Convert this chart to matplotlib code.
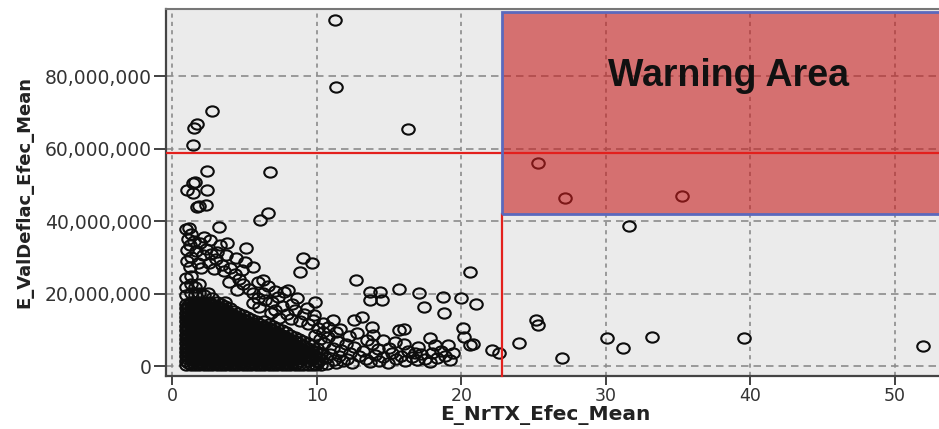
import numpy as np
import matplotlib
matplotlib.use("Agg")
import matplotlib.pyplot as plt
from matplotlib.path import Path
from matplotlib.patches import Rectangle
from matplotlib.ticker import FuncFormatter

# ---------------- data (x = E_NrTX_Efec_Mean, y = E_ValDeflac_Efec_Mean in millions) -------------
out_x = [11.27, 11.34, 16.3, 2.71, 1.68, 1.52, 1.4, 2.41, 6.75, 1.44, 1.55, 1.0, 1.4, 2.41,
         1.67, 1.85, 2.33, 6.06, 6.63, 3.22, 25.3, 27.2, 35.3, 31.6, 20.6, 20.0, 21.0, 18.7,
         18.8, 17.1, 17.4, 15.7, 13.7, 14.4, 13.7, 14.5, 12.7, 9.06, 9.64, 8.83, 25.2, 25.3,
         20.1, 20.2, 20.6, 20.8, 22.1, 22.6, 24.0, 27.0, 30.1, 31.2, 33.2, 39.6, 52.0, 16.0,
         15.7, 19.1, 17.8, 13.8, 12.6, 13.1, 11.1, 10.4, 9.9, 9.8, 8.0, 7.3, 7.7, 8.3, 5.0,
         5.1, 5.6, 5.9, 6.3, 3.3, 3.8]
out_y = [95.5, 76.9, 65.3, 70.5, 66.8, 65.8, 60.9, 53.9, 53.5, 50.5, 50.8, 48.6, 47.7, 48.6,
         44.0, 44.3, 44.5, 40.4, 42.2, 38.5, 56.2, 46.3, 47.1, 38.7, 26.1, 18.8, 17.2, 19.2,
         14.7, 20.3, 16.5, 21.3, 20.6, 20.6, 18.3, 18.2, 23.8, 29.8, 28.4, 26.1, 12.8, 11.4,
         10.5, 8.0, 5.9, 6.1, 4.5, 3.6, 6.4, 2.3, 7.8, 5.2, 8.0, 7.8, 5.6, 10.3,
         10.1, 5.9, 7.8, 11.0, 12.8, 13.7, 12.8, 11.9, 17.9, 14.2, 21.1, 19.2, 20.6, 17.2, 28.9,
         32.6, 27.5, 23.4, 23.8, 33.5, 34.0]

ring_x = [0.95, 1.15, 1.3, 1.05, 1.5, 1.2, 1.9, 1.0, 1.6, 2.3, 2.1, 1.3, 2.7, 1.0, 1.8, 2.5,
          3.0, 3.4, 1.2, 2.0, 2.9, 3.6, 4.0, 4.3, 4.6, 3.9, 4.9, 5.3, 4.5, 5.6, 2.2, 2.6, 3.1,
          4.4, 3.7, 4.8,
          5.9, 6.3, 6.9, 6.6, 7.1, 7.6, 7.9, 8.5, 8.2, 8.8, 9.1, 9.4, 9.7, 10.1, 6.0, 5.6, 6.8,
          7.4, 8.6, 9.3, 10.4, 10.8, 11.3, 7.1, 6.4,
          9.9, 10.2, 10.5, 10.8, 11.1, 11.4, 11.7, 12.0, 12.3, 12.6, 12.9, 13.2, 10.0, 10.3,
          10.6, 10.9, 11.2, 11.5, 11.8, 12.1, 10.1, 10.7, 11.3, 12.4, 12.8, 12.2, 11.6, 13.5,
          13.8, 13.4, 9.7, 9.9,
          13.7, 14.0, 14.3, 14.6, 14.9, 15.2, 15.5, 15.8, 16.1, 16.3, 16.6, 16.9, 17.2, 17.5,
          17.8, 18.0, 18.3, 18.6, 18.9, 19.2, 19.4, 15.0, 16.0, 17.0, 18.2, 14.2, 13.9, 14.6,
          15.4, 16.8]
ring_y = [37.8, 38.2, 36.6, 35.2, 34.6, 33.4, 33.9, 32.0, 31.8, 32.4, 30.6, 30.2, 31.0, 29.0,
          28.6, 28.4, 29.6, 28.0, 27.4, 27.0, 26.8, 26.2, 27.2, 25.4, 24.0, 23.2, 22.6, 21.4,
          21.0, 20.2, 35.8, 34.8, 31.5, 30.0, 30.8, 26.5,
          18.8, 20.2, 17.8, 22.3, 15.6, 16.8, 14.6, 15.5, 13.0, 12.4, 14.6, 11.6, 12.8, 10.6,
          16.4, 17.6, 14.8, 13.4, 18.8, 16.2, 9.4, 10.8, 9.6, 20.8, 18.2,
          8.8, 7.6, 6.4, 8.2, 5.2, 7.0, 4.6, 6.2, 3.6, 5.4, 2.8, 4.4, 5.0, 3.8,
          2.4, 3.4, 1.8, 2.8, 1.4, 2.2, 1.2, 0.8, 0.9, 1.0, 9.2, 8.4, 10.2, 7.4,
          6.2, 2.0, 2.2, 0.6,
          1.2, 3.2, 1.6, 2.6, 1.0, 3.8, 2.2, 3.0, 1.4, 4.4, 2.6, 1.8, 3.4, 2.2,
          1.2, 3.6, 2.4, 4.2, 3.0, 1.8, 3.6, 5.0, 6.2, 5.4, 5.8, 4.8, 8.8, 7.4,
          6.8, 3.6]

# dense core: column positions and the values read in each column
blob_col_x = [0.95, 1.25, 1.55, 1.85, 2.15, 2.45, 2.75, 3.05, 3.35, 3.65, 3.95, 4.25, 4.55,
              4.85, 5.15, 5.45, 5.75, 6.05, 6.35, 6.65, 6.95, 7.25, 7.55, 7.85, 8.15, 8.45,
              8.75, 9.05, 9.35, 9.65, 9.95, 10.25]
blob_col_y = [
    [0.4, 1.6, 2.8, 4.0, 5.2, 6.4, 7.6, 8.8, 10.0, 11.2, 12.4, 13.6, 14.8, 16.0, 17.2, 19.6, 22.0, 24.4],
    [0.4, 2.2, 3.4, 4.6, 5.8, 7.0, 8.2, 9.4, 10.6, 11.8, 13.0, 14.2, 15.4, 16.6, 17.8, 20.2, 22.6, 25.0],
    [0.4, 1.6, 2.8, 4.0, 5.2, 6.4, 7.6, 8.8, 10.0, 11.2, 12.4, 13.6, 14.8, 16.0, 17.2, 19.6, 22.0],
    [0.4, 2.2, 3.4, 4.6, 5.8, 7.0, 8.2, 9.4, 10.6, 11.8, 13.0, 14.2, 15.4, 16.6, 17.8, 20.2, 22.6],
    [0.4, 1.6, 2.8, 4.0, 5.2, 6.4, 7.6, 8.8, 10.0, 11.2, 12.4, 13.6, 14.8, 16.0, 17.2, 19.6],
    [0.4, 2.2, 3.4, 4.6, 5.8, 7.0, 8.2, 9.4, 10.6, 11.8, 13.0, 14.2, 15.4, 16.6, 17.8, 20.2],
    [0.4, 1.6, 2.8, 4.0, 5.2, 6.4, 7.6, 8.8, 10.0, 11.2, 12.4, 13.6, 14.8, 16.0, 17.2, 19.0],
    [0.4, 2.2, 3.4, 4.6, 5.8, 7.0, 8.2, 9.4, 10.6, 11.8, 13.0, 14.2, 15.4, 16.6, 17.8],
    [0.4, 1.6, 2.8, 4.0, 5.2, 6.4, 7.6, 8.8, 10.0, 11.2, 12.4, 13.6, 14.8, 16.0, 17.2],
    [0.4, 2.2, 3.4, 4.6, 5.8, 7.0, 8.2, 9.4, 10.6, 11.8, 13.0, 14.2, 15.4, 16.6, 17.8],
    [0.4, 1.6, 2.8, 4.0, 5.2, 6.4, 7.6, 8.8, 10.0, 11.2, 12.4, 13.6, 14.8, 16.0],
    [0.4, 2.2, 3.4, 4.6, 5.8, 7.0, 8.2, 9.4, 10.6, 11.8, 13.0, 14.2, 15.4],
    [0.4, 1.6, 2.8, 4.0, 5.2, 6.4, 7.6, 8.8, 10.0, 11.2, 12.4, 13.6, 14.8],
    [0.4, 2.2, 3.4, 4.6, 5.8, 7.0, 8.2, 9.4, 10.6, 11.8, 13.0, 14.2],
    [0.4, 1.6, 2.8, 4.0, 5.2, 6.4, 7.6, 8.8, 10.0, 11.2, 12.4, 13.6],
    [0.4, 2.2, 3.4, 4.6, 5.8, 7.0, 8.2, 9.4, 10.6, 11.8, 13.0],
    [0.4, 1.6, 2.8, 4.0, 5.2, 6.4, 7.6, 8.8, 10.0, 11.2, 12.4],
    [0.4, 2.2, 3.4, 4.6, 5.8, 7.0, 8.2, 9.4, 10.6, 11.8],
    [0.4, 1.6, 2.8, 4.0, 5.2, 6.4, 7.6, 8.8, 10.0, 11.2, 12.4],
    [0.4, 2.2, 3.4, 4.6, 5.8, 7.0, 8.2, 9.4, 10.6, 11.8],
    [0.4, 1.6, 2.8, 4.0, 5.2, 6.4, 7.6, 8.8, 10.0, 11.2],
    [0.4, 2.2, 3.4, 4.6, 5.8, 7.0, 8.2, 9.4, 10.6],
    [0.4, 1.6, 2.8, 4.0, 5.2, 6.4, 7.6, 8.8, 10.0],
    [0.4, 2.2, 3.4, 4.6, 5.8, 7.0, 8.2, 9.4],
    [0.4, 1.6, 2.8, 4.0, 5.2, 6.4, 7.6, 8.8],
    [0.4, 2.2, 3.4, 4.6, 5.8, 7.0, 8.2],
    [0.4, 1.6, 2.8, 4.0, 5.2, 6.4, 7.6],
    [0.4, 2.2, 3.4, 4.6, 5.8, 7.0],
    [0.4, 1.6, 2.8, 4.0, 5.2, 6.4],
    [0.4, 2.2, 3.4, 4.6, 5.8],
    [0.4, 1.6, 2.8, 4.0],
    [0.4, 2.2, 3.4],
]

# second, interleaved reading of the solid core
core_col_x = [1.1, 1.4, 1.7, 2.0, 2.3, 2.6, 2.9, 3.2, 3.5, 3.8, 4.1, 4.4, 4.7, 5.0, 5.3,
              5.6, 5.9, 6.2, 6.5, 6.8, 7.1, 7.4, 7.7, 8.0, 8.3, 8.6]
core_col_y = [
    [1.0, 2.0, 3.0, 4.0, 5.0, 6.0, 7.0, 8.0, 9.0, 10.0, 11.0, 12.0, 13.0, 14.0, 15.0, 16.0, 17.0],
    [1.0, 2.0, 3.0, 4.0, 5.0, 6.0, 7.0, 8.0, 9.0, 10.0, 11.0, 12.0, 13.0, 14.0, 15.0, 16.0, 17.0],
    [1.0, 2.0, 3.0, 4.0, 5.0, 6.0, 7.0, 8.0, 9.0, 10.0, 11.0, 12.0, 13.0, 14.0, 15.0, 16.0, 17.0],
    [1.0, 2.0, 3.0, 4.0, 5.0, 6.0, 7.0, 8.0, 9.0, 10.0, 11.0, 12.0, 13.0, 14.0, 15.0, 16.0, 17.0],
    [1.0, 2.0, 3.0, 4.0, 5.0, 6.0, 7.0, 8.0, 9.0, 10.0, 11.0, 12.0, 13.0, 14.0, 15.0, 16.0, 17.0],
    [1.0, 2.0, 3.0, 4.0, 5.0, 6.0, 7.0, 8.0, 9.0, 10.0, 11.0, 12.0, 13.0, 14.0, 15.0, 16.0, 17.0],
    [1.0, 2.0, 3.0, 4.0, 5.0, 6.0, 7.0, 8.0, 9.0, 10.0, 11.0, 12.0, 13.0, 14.0, 15.0, 16.0],
    [1.0, 2.0, 3.0, 4.0, 5.0, 6.0, 7.0, 8.0, 9.0, 10.0, 11.0, 12.0, 13.0, 14.0, 15.0, 16.0],
    [1.0, 2.0, 3.0, 4.0, 5.0, 6.0, 7.0, 8.0, 9.0, 10.0, 11.0, 12.0, 13.0, 14.0, 15.0, 16.0],
    [1.0, 2.0, 3.0, 4.0, 5.0, 6.0, 7.0, 8.0, 9.0, 10.0, 11.0, 12.0, 13.0, 14.0, 15.0],
    [1.0, 2.0, 3.0, 4.0, 5.0, 6.0, 7.0, 8.0, 9.0, 10.0, 11.0, 12.0, 13.0, 14.0],
    [1.0, 2.0, 3.0, 4.0, 5.0, 6.0, 7.0, 8.0, 9.0, 10.0, 11.0, 12.0, 13.0],
    [1.0, 2.0, 3.0, 4.0, 5.0, 6.0, 7.0, 8.0, 9.0, 10.0, 11.0, 12.0, 13.0],
    [1.0, 2.0, 3.0, 4.0, 5.0, 6.0, 7.0, 8.0, 9.0, 10.0, 11.0, 12.0],
    [1.0, 2.0, 3.0, 4.0, 5.0, 6.0, 7.0, 8.0, 9.0, 10.0, 11.0, 12.0],
    [1.0, 2.0, 3.0, 4.0, 5.0, 6.0, 7.0, 8.0, 9.0, 10.0, 11.0, 12.0],
    [1.0, 2.0, 3.0, 4.0, 5.0, 6.0, 7.0, 8.0, 9.0, 10.0, 11.0],
    [1.0, 2.0, 3.0, 4.0, 5.0, 6.0, 7.0, 8.0, 9.0, 10.0, 11.0],
    [1.0, 2.0, 3.0, 4.0, 5.0, 6.0, 7.0, 8.0, 9.0, 10.0],
    [1.0, 2.0, 3.0, 4.0, 5.0, 6.0, 7.0, 8.0, 9.0, 10.0],
    [1.0, 2.0, 3.0, 4.0, 5.0, 6.0, 7.0, 8.0, 9.0],
    [1.0, 2.0, 3.0, 4.0, 5.0, 6.0, 7.0, 8.0, 9.0],
    [1.0, 2.0, 3.0, 4.0, 5.0, 6.0, 7.0, 8.0],
    [1.0, 2.0, 3.0, 4.0, 5.0, 6.0, 7.0],
    [1.0, 2.0, 3.0, 4.0, 5.0, 6.0],
    [1.0, 2.0, 3.0, 4.0, 5.0],
]

x_ticks = [0, 10, 20, 30, 40, 50]
y_ticks_m = [0, 20, 40, 60, 80]

limit_y_m = 58.7          # red horizontal threshold
limit_x = 22.8            # red vertical threshold
warn_x0, warn_y0_m, warn_y1_m = 22.8, 41.9, 97.7
warning_label = "Warning Area"
x_label = "E_NrTX_Efec_Mean"
y_label = "E_ValDeflac_Efec_Mean"

# ---------------- assemble ----------------
M = 1e6
bx, by = [], []
for cols_x, cols_y in ((blob_col_x, blob_col_y), (core_col_x, core_col_y)):
    for cx, ys in zip(cols_x, cols_y):
        for yv in ys:
            bx.append(cx)
            by.append(yv)
all_x = np.array(out_x + ring_x + bx)
all_y = np.array(out_y + ring_y + by) * M

fig = plt.figure(figsize=(9.39, 4.29), dpi=100)
ax = fig.add_axes([166 / 939, 53 / 429, 773 / 939, 367 / 429])
ax.set_facecolor("#ebebeb")
ax.set_xlim(-0.45, 53.08)
ax.set_ylim(-2.62 * M, 98.5 * M)

# grid
for xv in x_ticks:
    ax.axvline(xv, color="#8c8c8c", lw=1.2, dashes=(2.5, 2.5), zorder=1)
for yv in y_ticks_m:
    ax.axhline(yv * M, color="#8c8c8c", lw=1.2, dashes=(4.5, 3.0), zorder=1)

# elliptical open-circle marker (reference image is horizontally stretched)
circ = Path.unit_circle()
ell = Path(circ.vertices * np.array([1.0, 0.82]), circ.codes)
ax.plot(all_x, all_y, linestyle="none", marker=ell, markersize=9.0,
        markerfacecolor="none", markeredgecolor="#0d0d0d", markeredgewidth=1.5,
        zorder=2)

# warning area overlay
ax.add_patch(Rectangle((warn_x0, warn_y0_m * M), 60, (warn_y1_m - warn_y0_m) * M,
                       facecolor=(0.78, 0.12, 0.12), alpha=0.6, edgecolor="none", zorder=3))
ax.add_patch(Rectangle((warn_x0, warn_y0_m * M), 60, (warn_y1_m - warn_y0_m) * M,
                       facecolor="none", edgecolor="#5b69bd", lw=2.0, zorder=5))
ax.axhline(limit_y_m * M, color="#e3201d", lw=1.6, zorder=4)
ax.plot([limit_x, limit_x], [-2.62 * M, warn_y0_m * M], color="#e3201d", lw=1.6, zorder=4,
        clip_on=False)
ax.text(38.5, 80 * M, warning_label, ha="center", va="center", fontsize=27,
        fontweight="bold", family="Liberation Sans", color="#111111", zorder=6)

# axes styling
ax.set_xticks(x_ticks)
ax.set_yticks([v * M for v in y_ticks_m])
ax.yaxis.set_major_formatter(FuncFormatter(lambda v, p: f"{int(round(v)):,}"))
ax.tick_params(axis="y", length=9, width=1.3, color="#333333", pad=1,
               labelsize=13.5, labelcolor="#333333")
ax.tick_params(axis="x", length=6.5, width=1.3, color="#333333", pad=1.5,
               labelsize=12.5, labelcolor="#333333")
for s in ("left", "bottom"):
    ax.spines[s].set_color("#444444")
    ax.spines[s].set_linewidth(1.6)
ax.spines["top"].set_color("#777777")
ax.spines["top"].set_linewidth(1.5)
ax.spines["right"].set_visible(False)

ax.set_xlabel(x_label, fontsize=14.5, fontweight="bold", color="#222222")
ax.set_ylabel(y_label, fontsize=13, fontweight="bold", color="#222222")
ax.xaxis.set_label_coords((545 - 166) / 773, -(405 - 376) / 367)
ax.yaxis.set_label_coords((33 - 166) / 773, 0.5)

fig.savefig("out.png", dpi=100)
